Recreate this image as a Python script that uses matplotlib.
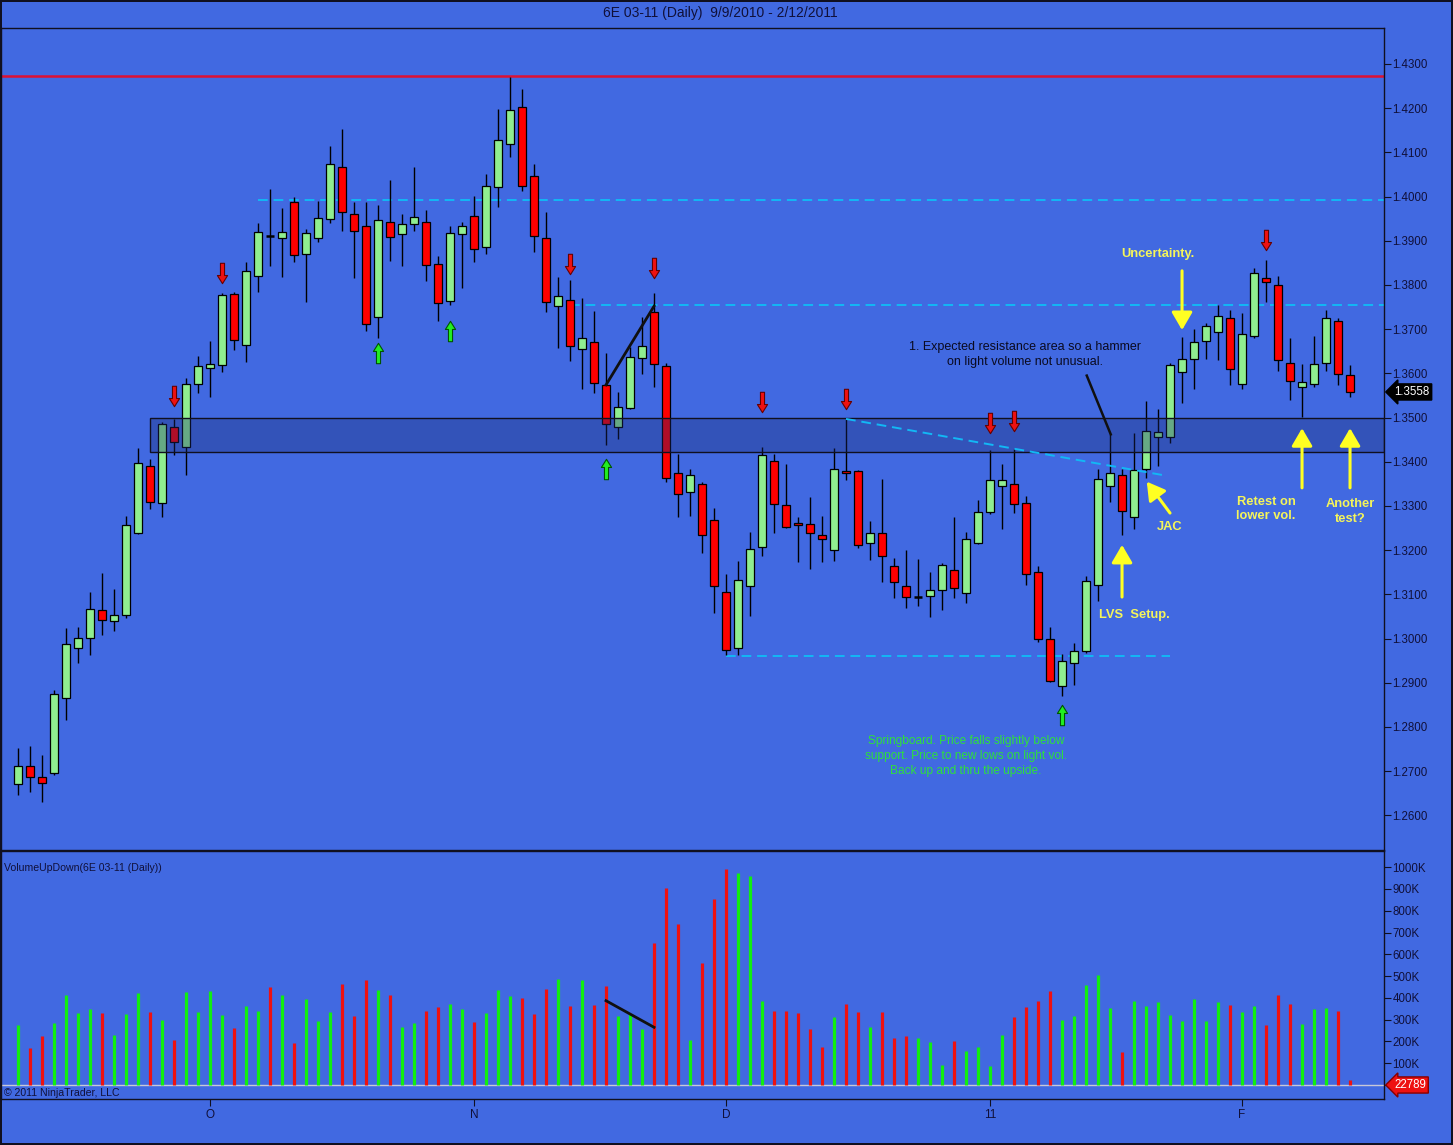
import matplotlib
matplotlib.use('Agg')
import matplotlib.pyplot as plt
import numpy as np
from matplotlib.path import Path
from matplotlib.patches import Rectangle
import matplotlib.transforms as mtransforms

plt.rcParams['font.family'] = ['Liberation Sans', 'DejaVu Sans']

# ---------------- data ----------------
opens = [
    1.2671, 1.2711, 1.2687, 1.2696, 1.2865, 1.2978, 1.3001, 1.3065, 1.3039, 1.3053,
    1.3240, 1.3390, 1.3306, 1.3478, 1.3434, 1.3575, 1.3612, 1.3618, 1.3779, 1.3664,
    1.3821, 1.3912, 1.3906, 1.3987, 1.3870, 1.3906, 1.3949, 1.4066, 1.3960, 1.3933,
    1.3727, 1.3943, 1.3915, 1.3937, 1.3942, 1.3847, 1.3764, 1.3915, 1.3956, 1.3885,
    1.4021, 1.4118, 1.4202, 1.4046, 1.3906, 1.3752, 1.3766, 1.3655, 1.3670, 1.3573,
    1.3478, 1.3521, 1.3634, 1.3738, 1.3616, 1.3374, 1.3331, 1.3349, 1.3268, 1.3105,
    1.2978, 1.3119, 1.3207, 1.3401, 1.3302, 1.3261, 1.3259, 1.3234, 1.3200, 1.3379,
    1.3379, 1.3216, 1.3238, 1.3164, 1.3119, 1.3095, 1.3096, 1.3110, 1.3155, 1.3103,
    1.3216, 1.3286, 1.3345, 1.3349, 1.3306, 1.3150, 1.2999, 1.2892, 1.2944, 1.2972,
    1.3121, 1.3345, 1.3370, 1.3275, 1.3383, 1.3456, 1.3456, 1.3603, 1.3632, 1.3673,
    1.3693, 1.3725, 1.3575, 1.3684, 1.3815, 1.3799, 1.3623, 1.3569, 1.3575, 1.3623,
    1.3718, 1.3596]
highs = [
    1.2753, 1.2757, 1.2737, 1.2884, 1.3024, 1.3027, 1.3105, 1.3149, 1.3112, 1.3278,
    1.3431, 1.3407, 1.3491, 1.3496, 1.3589, 1.3640, 1.3673, 1.3781, 1.3784, 1.3851,
    1.3940, 1.4017, 1.3974, 1.3998, 1.3927, 1.3990, 1.4115, 1.4153, 1.3987, 1.3987,
    1.3980, 1.4038, 1.3961, 1.4068, 1.3970, 1.3866, 1.3934, 1.3943, 1.4002, 1.4050,
    1.4198, 1.4271, 1.4243, 1.4073, 1.3966, 1.3818, 1.3811, 1.3770, 1.3742, 1.3646,
    1.3557, 1.3660, 1.3728, 1.3781, 1.3623, 1.3417, 1.3383, 1.3354, 1.3296, 1.3146,
    1.3176, 1.3242, 1.3434, 1.3417, 1.3395, 1.3275, 1.3320, 1.3278, 1.3431, 1.3496,
    1.3382, 1.3265, 1.3360, 1.3182, 1.3200, 1.3180, 1.3150, 1.3171, 1.3275, 1.3241,
    1.3314, 1.3426, 1.3395, 1.3428, 1.3322, 1.3164, 1.3026, 1.2965, 1.2990, 1.3141,
    1.3383, 1.3462, 1.3383, 1.3465, 1.3537, 1.3519, 1.3623, 1.3682, 1.3700, 1.3713,
    1.3754, 1.3743, 1.3736, 1.3838, 1.3857, 1.3820, 1.3680, 1.3621, 1.3684, 1.3743,
    1.3725, 1.3618]
lows = [
    1.2646, 1.2654, 1.2631, 1.2692, 1.2816, 1.2944, 1.2963, 1.3008, 1.3018, 1.3046,
    1.3237, 1.3293, 1.3276, 1.3416, 1.3370, 1.3556, 1.3547, 1.3604, 1.3653, 1.3625,
    1.3784, 1.3843, 1.3818, 1.3853, 1.3761, 1.3897, 1.3941, 1.3923, 1.3815, 1.3697,
    1.3681, 1.3854, 1.3844, 1.3922, 1.3809, 1.3719, 1.3755, 1.3794, 1.3851, 1.3869,
    1.3977, 1.4090, 1.4012, 1.3874, 1.3740, 1.3658, 1.3627, 1.3564, 1.3555, 1.3437,
    1.3451, 1.3519, 1.3598, 1.3570, 1.3354, 1.3275, 1.3278, 1.3193, 1.3058, 1.2962,
    1.2962, 1.3052, 1.3186, 1.3238, 1.3250, 1.3173, 1.3157, 1.3173, 1.3175, 1.3359,
    1.3204, 1.3177, 1.3128, 1.3091, 1.3069, 1.3073, 1.3048, 1.3065, 1.3091, 1.3080,
    1.3214, 1.3282, 1.3247, 1.3284, 1.3121, 1.2992, 1.2901, 1.2870, 1.2895, 1.2967,
    1.3085, 1.3309, 1.3234, 1.3247, 1.3363, 1.3390, 1.3442, 1.3532, 1.3564, 1.3632,
    1.3630, 1.3573, 1.3564, 1.3680, 1.3761, 1.3605, 1.3539, 1.3501, 1.3569, 1.3605,
    1.3573, 1.3546]
closes = [
    1.2711, 1.2687, 1.2673, 1.2874, 1.2987, 1.3001, 1.3067, 1.3042, 1.3053, 1.3257,
    1.3397, 1.3310, 1.3485, 1.3444, 1.3575, 1.3616, 1.3621, 1.3777, 1.3675, 1.3831,
    1.3919, 1.3911, 1.3919, 1.3867, 1.3917, 1.3951, 1.4073, 1.3965, 1.3921, 1.3711,
    1.3948, 1.3908, 1.3937, 1.3953, 1.3845, 1.3759, 1.3917, 1.3933, 1.3881, 1.4023,
    1.4127, 1.4195, 1.4023, 1.3910, 1.3761, 1.3775, 1.3661, 1.3681, 1.3578, 1.3485,
    1.3523, 1.3637, 1.3663, 1.3621, 1.3363, 1.3327, 1.3370, 1.3234, 1.3119, 1.2974,
    1.3132, 1.3202, 1.3415, 1.3304, 1.3252, 1.3257, 1.3238, 1.3225, 1.3383, 1.3374,
    1.3211, 1.3240, 1.3186, 1.3128, 1.3094, 1.3095, 1.3110, 1.3166, 1.3114, 1.3225,
    1.3286, 1.3358, 1.3358, 1.3304, 1.3146, 1.2999, 1.2904, 1.2949, 1.2972, 1.3130,
    1.3361, 1.3374, 1.3288, 1.3381, 1.3469, 1.3467, 1.3618, 1.3632, 1.3670, 1.3707,
    1.3729, 1.3609, 1.3689, 1.3827, 1.3806, 1.3630, 1.3582, 1.3580, 1.3621, 1.3725,
    1.3598, 1.3558]
volumes_k = [
    277, 170, 226, 286, 415, 332, 350, 329, 231, 327,
    424, 335, 298, 207, 427, 335, 433, 323, 263, 364,
    341, 451, 415, 194, 396, 295, 337, 462, 318, 484,
    436, 415, 268, 286, 341, 360, 370, 350, 289, 332,
    438, 410, 401, 327, 442, 488, 364, 484, 367, 456,
    318, 324, 257, 652, 903, 741, 207, 559, 855, 992,
    975, 960, 386, 340, 341, 332, 257, 174, 312, 372,
    335, 268, 335, 217, 226, 217, 199, 92, 204, 158,
    174, 86, 231, 314, 358, 386, 432, 298, 317, 459,
    505, 352, 151, 386, 363, 381, 323, 294, 395, 294,
    383, 367, 334, 364, 277, 415, 370, 282, 349, 353,
    341, 22.789]

month_ticks = [16, 38, 59, 81, 102]
month_labels = ['O', 'N', 'D', '11', 'F']

down_arrow_bars = [13, 17, 46, 53, 62, 69, 81, 83, 104]
down_arrow_prices = [1.3549, 1.3826, 1.3848, 1.3838, 1.3535, 1.3541, 1.3488, 1.3492, 1.3901]
up_arrow_bars = [30, 36, 49, 87]
up_arrow_prices = [1.3646, 1.3697, 1.3383, 1.2827]

resistance_level = 1.4273
level_upper = 1.3992
level_mid = 1.3755
level_low = 1.2961
zone_low, zone_high = 1.3422, 1.3499
trend_start = (69, 1.3497)
trend_end = (95.8, 1.3368)

last_price = closes[-1]
last_volume = 22789

# ---------------- styles ----------------
BG = '#4169E1'
TXT = '#10103a'
CANDLE_UP = '#90EE90'
CANDLE_DN = '#FF0000'
VOL_UP = '#11EE11'
VOL_DN = '#EE1111'
CYAN = '#12B8F5'
YEL = '#F5F55A'

W, H = 1453, 1145
fig = plt.figure(figsize=(W / 100, H / 100), dpi=100, facecolor=BG)
fig.patch.set_edgecolor('#101020')
fig.patch.set_linewidth(1.5)

def px_axes(x0, y0, x1, y1):
    return fig.add_axes([x0 / W, 1 - y1 / H, (x1 - x0) / W, (y1 - y0) / H])

ax = px_axes(1, 28, 1384, 850)
axv = px_axes(1, 851, 1384, 1099)
for a in (ax, axv):
    a.set_facecolor(BG)
    for s in a.spines.values():
        s.set_color('#101020')
        s.set_linewidth(1.0)

n = len(opens)
x = np.arange(n)
o = np.array(opens); h = np.array(highs); l = np.array(lows); c = np.array(closes)
up = c >= o

xlim = (-1.417, 113.83)
ax.set_xlim(*xlim)
ax.set_ylim(1.25217, 1.43814)
axv.set_xlim(*xlim)
axv.set_ylim(-64.3, 1074.4)

# ---------------- price panel ----------------
ax.axhline(resistance_level, color='#DD1133', lw=1.8, zorder=2)
ax.hlines(level_upper, 20, xlim[1], colors=CYAN, lw=1.4, linestyles=(0, (5, 3)), zorder=2)
ax.hlines(level_mid, 46, xlim[1], colors=CYAN, lw=1.4, linestyles=(0, (5, 3)), zorder=2)
ax.hlines(level_low, 59, 96, colors=CYAN, lw=1.4, linestyles=(0, (5, 3)), zorder=2)

ax.vlines(x, l, h, colors='black', lw=1.0, zorder=3)
body_h = np.abs(c - o)
is_doji = body_h < 0.00012
colors = np.where(up, CANDLE_UP, CANDLE_DN)
bx = x[~is_doji]
ax.bar(bx, body_h[~is_doji], bottom=np.minimum(o, c)[~is_doji], width=0.68,
       color=colors[~is_doji], edgecolor='black', linewidth=0.9, zorder=3)
for xi in x[is_doji]:
    ax.hlines(c[xi], xi - 0.34, xi + 0.34, colors='black', lw=1.8, zorder=3)

# shaded support/resistance zone
ax.add_patch(Rectangle((11, zone_low), xlim[1] - 11, zone_high - zone_low,
                       facecolor='#1a2a70', alpha=0.35, edgecolor='none', zorder=4))
ax.add_patch(Rectangle((11, zone_low), xlim[1] - 11, zone_high - zone_low,
                       facecolor='none', edgecolor='#101020', lw=1.0, zorder=4))

# dashed trend line
ax.plot([trend_start[0], trend_end[0]], [trend_start[1], trend_end[1]], color=CYAN,
        lw=1.4, ls=(0, (5, 3)), zorder=4)

# black hand-drawn lines
ax.plot([49, 53], [1.3574, 1.3752], color='#101010', lw=2.0, zorder=5)
ax.plot([89.06, 91.06], [1.3595, 1.3462], color='#101010', lw=1.8, zorder=5)

# arrow markers
down_path = Path([(-0.2, 1), (0.2, 1), (0.2, -0.2), (0.5, -0.2), (0, -1),
                  (-0.5, -0.2), (-0.2, -0.2), (-0.2, 1)],
                 [Path.MOVETO] + [Path.LINETO] * 6 + [Path.CLOSEPOLY])
up_path = Path([(vx, -vy) for vx, vy in down_path.vertices], down_path.codes)
ax.scatter(down_arrow_bars, down_arrow_prices, marker=down_path, s=215,
           c='#EE1111', edgecolors='#660000', linewidths=0.8, zorder=6)
ax.scatter(up_arrow_bars, up_arrow_prices, marker=up_path, s=215,
           c='#22EE22', edgecolors='#005500', linewidths=0.8, zorder=6)

# yellow annotation arrows
def yarrow(x0, y0, x1, y1):
    ax.annotate('', xy=(x1, y1), xytext=(x0, y0),
                arrowprops=dict(arrowstyle='-|>,head_length=0.6,head_width=0.35',
                                color='#FFFF22', lw=2.2, shrinkA=0, shrinkB=0,
                                mutation_scale=18), zorder=7)

yarrow(97.0, 1.3832, 97.0, 1.3698)
yarrow(92.0, 1.3094, 92.0, 1.3212)
yarrow(96.0, 1.3284, 94.06, 1.3355)
yarrow(107.0, 1.3341, 107.0, 1.3476)
yarrow(111.0, 1.3341, 111.0, 1.3476)

yfont = dict(color=YEL, fontsize=9.3, fontweight='bold', ha='center', va='center',
             linespacing=1.3, zorder=8)
ax.text(95.0, 1.3870, 'Uncertainty.', **yfont)
ax.text(93.0, 1.3053, 'LVS  Setup.', **yfont)
ax.text(96.0, 1.3253, 'JAC', **yfont)
ax.text(104.0, 1.3293, 'Retest on\nlower vol.', **yfont)
ax.text(111.0, 1.3287, 'Another\ntest?', **yfont)

ax.text(83.9, 1.3642, '1. Expected resistance area so a hammer\non light volume not unusual.',
        color='#0a0a20', fontsize=9, ha='center', va='center', linespacing=1.3, zorder=8)
ax.text(79.0, 1.2734, 'Springboard. Price falls slightly below\nsupport. Price to new lows on light vol.\nBack up and thru the upside.',
        color='#2EE03C', fontsize=8.6, ha='center', va='center', linespacing=1.3, zorder=8)

# price axis
ax.yaxis.tick_right()
ax.set_yticks(np.round(np.arange(1.26, 1.4301, 0.01), 2))
ax.set_yticklabels([f'{v:.4f}' for v in np.arange(1.26, 1.4301, 0.01)])
ax.tick_params(axis='y', direction='out', length=5, width=0.8, colors='#101020',
               labelcolor=TXT, labelsize=8.3, pad=1)
ax.set_xticks([])

trans = mtransforms.blended_transform_factory(ax.transAxes, ax.transData)
ax.text(1.0075, last_price, f'{last_price:.4f}', transform=trans, color='white',
        fontsize=8.3, ha='left', va='center', zorder=9, clip_on=False,
        bbox=dict(boxstyle='larrow,pad=0.18', fc='black', ec='black'))

# ---------------- volume panel ----------------
vcol = np.where(up, VOL_UP, VOL_DN)
axv.vlines(x, 0, volumes_k, colors=vcol, lw=2.3, zorder=3)
axv.axhline(0, color='#C8C8D8', lw=1.0, zorder=2)
axv.plot([49, 53], [387, 265], color='#101010', lw=2.0, zorder=5)

axv.yaxis.tick_right()
vt = np.arange(0, 1001, 100)
axv.set_yticks(vt)
# the "0" label sits behind the last-volume tag in the original
axv.set_yticklabels([''] + [f'{v}K' for v in vt[1:]])
axv.tick_params(axis='y', direction='out', length=5, width=0.8, colors='#101020',
                labelcolor=TXT, labelsize=8.3, pad=1)
axv.set_xticks(month_ticks)
axv.set_xticklabels(month_labels)
axv.tick_params(axis='x', direction='out', length=5, width=0.8, colors='#101020',
                labelcolor=TXT, labelsize=8.5, pad=2)

transv = mtransforms.blended_transform_factory(axv.transAxes, axv.transData)
axv.text(1.0075, 0, f'{last_volume}', transform=transv, color='white',
         fontsize=8.3, ha='left', va='center', zorder=9, clip_on=False,
         bbox=dict(boxstyle='larrow,pad=0.18', fc='#EE1111', ec='#880000'))

axv.text(0.002, 0.93, 'VolumeUpDown(6E 03-11 (Daily))', transform=axv.transAxes,
         color=TXT, fontsize=7.6, ha='left', va='center')
axv.text(0.002, 0.026, '\u00a9 2011 NinjaTrader, LLC', transform=axv.transAxes,
         color=TXT, fontsize=7.6, ha='left', va='center', zorder=6)

fig.text(720 / W, 1 - 13 / H, '6E 03-11 (Daily)  9/9/2010 - 2/12/2011', color=TXT,
         fontsize=10, ha='center', va='center')

fig.savefig('out.png', dpi=100, facecolor=BG, edgecolor=fig.patch.get_edgecolor())
